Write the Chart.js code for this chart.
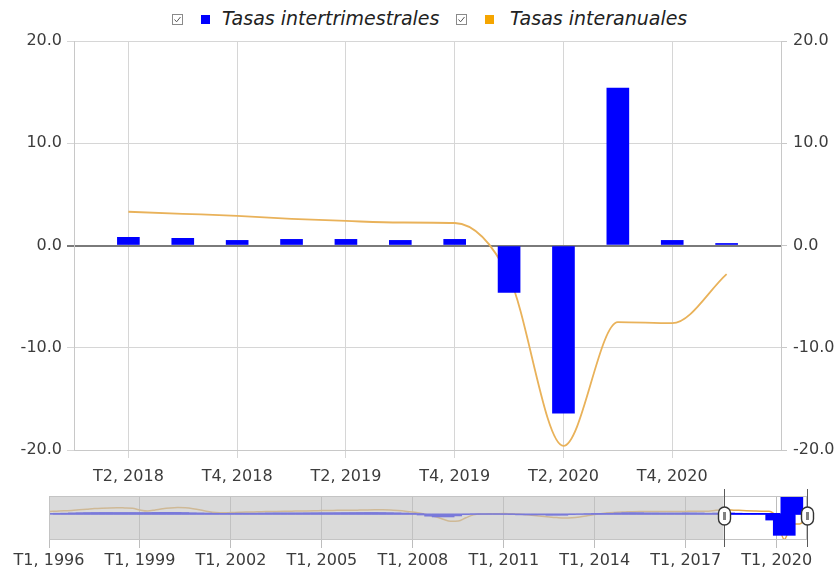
<!DOCTYPE html>
<html>
<head>
<meta charset="utf-8">
<script src="https://cdn.jsdelivr.net/npm/chart.js@4.4.1/dist/chart.umd.min.js"></script>
<style>
  body { margin: 0; background: #fff; width: 834px; height: 572px; overflow: hidden; position: relative;
         font-family: 'DejaVu Sans', Verdana, sans-serif; }
  #legend { position: absolute; top: 0; left: 0; width: 834px; height: 36px; }
  .chk { position: absolute; top: 14px; width: 11px; height: 11px; }
  .sq { position: absolute; top: 15px; width: 9px; height: 9px; }
  .lbl { position: absolute; top: 6px; font-size: 19px; line-height: 24px; font-style: italic; color: #222; white-space: nowrap; }
  #main { position: absolute; top: 0; left: 0; }
  #nav { position: absolute; top: 486px; left: 0; }
</style>
</head>
<body>
<div id="legend">
  <svg class="chk" style="left:172px" viewBox="0 0 11 11"><rect x="0.5" y="0.5" width="10" height="10" fill="#fff" stroke="#8a8a8a"/><polyline points="2.5,5.5 4.6,7.8 8.5,3" fill="none" stroke="#555" stroke-width="1"/></svg>
  <div class="sq" style="left:201px;background:#0000ff"></div>
  <span class="lbl" style="left:222px">Tasas intertrimestrales</span>
  <svg class="chk" style="left:456px" viewBox="0 0 11 11"><rect x="0.5" y="0.5" width="10" height="10" fill="#fff" stroke="#8a8a8a"/><polyline points="2.5,5.5 4.6,7.8 8.5,3" fill="none" stroke="#555" stroke-width="1"/></svg>
  <div class="sq" style="left:485px;background:#f5a500"></div>
  <span class="lbl" style="left:510px">Tasas interanuales</span>
</div>
<canvas id="main" width="834" height="486"></canvas>
<canvas id="nav" width="834" height="86"></canvas>
<script>
// Quarterly series, T1 1996 .. T1 2021
const years = [1996, 1997, 1998, 1999, 2000, 2001, 2002, 2003, 2004, 2005, 2006, 2007, 2008,
               2009, 2010, 2011, 2012, 2013, 2014, 2015, 2016, 2017, 2018, 2019, 2020, 2021];
const quarters = ['T1', 'T2', 'T3', 'T4'];

const tasasIntertrimestrales = [
  0.5, 0.6, 0.7, 0.7,   0.9, 1.0, 1.0, 1.1,   1.1, 1.0, 1.0, 1.1,   1.0, 0.9, 1.1, 1.3,
  1.3, 1.2, 0.9, 0.8,   0.8, 0.7, 0.6, 0.6,   0.6, 0.7, 0.7, 0.6,   0.7, 0.8, 0.8, 0.8,
  0.8, 0.8, 0.8, 0.9,   0.9, 0.9, 0.9, 1.0,   1.0, 1.0, 1.1, 1.1,   1.0, 0.9, 0.8, 0.7,
  0.4, 0.0, -0.7, -1.6, -2.2, -1.4, -0.4, -0.1, 0.1, 0.2, 0.1, 0.1,  0.2, -0.1, -0.2, -0.6,
  -0.5, -0.5, -0.5, -0.9, -0.4, -0.1, 0.1, 0.1, 0.3, 0.5, 0.6, 0.7,  0.9, 1.0, 0.8, 0.8,
  0.7, 0.8, 0.7, 0.7,   0.8, 0.9, 0.6, 0.7,   0.6, 0.8, 0.7, 0.5,   0.6, 0.6, 0.5, 0.6,
  -4.6, -16.4, 15.4, 0.5,
  0.2
];

const tasasInteranuales = [
  2.0, 2.3, 2.6, 2.8,   3.3, 3.8, 4.3, 4.6,   4.8, 4.9, 4.8, 4.6,   3.2, 2.4, 3.2, 4.2,
  4.8, 5.1, 4.9, 4.2,   3.2, 2.0, 1.2, 1.0,   1.2, 1.4, 1.6, 1.7,   1.9, 2.0, 2.1, 2.2,
  2.3, 2.4, 2.5, 2.6,   2.7, 2.8, 2.9, 3.0,   3.0, 3.1, 3.2, 3.3,   3.4, 3.2, 2.8, 2.3,
  1.6, 0.6, -0.6, -2.0, -4.0, -5.6, -5.4, -2.8, -0.6, 0.1, 0.2, 0.3, 0.4, 0.2, 0.0, -0.5,
  -1.0, -1.6, -2.2, -2.7, -3.0, -2.8, -2.2, -1.3, -0.3, 0.5, 1.1, 1.5, 1.7, 1.9, 2.0, 2.0,
  2.0, 2.0, 2.0, 2.0,   2.1, 2.2, 2.2, 2.3,   3.0, 3.3, 3.1, 2.9,   2.6, 2.4, 2.25, 2.2,
  -3.1, -19.6, -7.5, -7.6,
  -2.8
];

// build "T1, 1996" style labels
const quarterLabels = [];
years.forEach(y => quarters.forEach(q => quarterLabels.push(q + ', ' + y)));

// selected window in the navigator (T2 2018 .. T1 2021)
const windowStart = 89;
const windowEnd = 100;

const mainLabels = quarterLabels.slice(windowStart - 1, windowEnd + 2);
const mainBars = [null].concat(tasasIntertrimestrales.slice(windowStart, windowEnd + 1), [null]);
const mainLine = [null].concat(tasasInteranuales.slice(windowStart, windowEnd + 1), [null]);

const navLabels = quarterLabels.slice(0, tasasIntertrimestrales.length);

Chart.defaults.font.family = "'DejaVu Sans', Verdana, sans-serif";
Chart.defaults.font.size = 16;
Chart.defaults.color = '#3c3c3c';

const gridGray = '#d6d6d6';

const yTicks = {
  stepSize: 10,
  callback: v => v.toFixed(1)
};

new Chart(document.getElementById('main'), {
  type: 'bar',
  data: {
    labels: mainLabels,
    datasets: [{
      label: 'Tasas intertrimestrales',
      data: mainBars,
      backgroundColor: '#0000ff',
      barThickness: 22
    }, {
      type: 'line',
      label: 'Tasas interanuales',
      data: mainLine,
      borderColor: '#e9b25a',
      borderWidth: 1.8,
      pointRadius: 0,
      cubicInterpolationMode: 'monotone',
      fill: false
    }]
  },
  options: {
    responsive: false,
    animation: false,
    layout: { padding: { top: 41, left: 0, right: 0, bottom: 0 } },
    plugins: { legend: { display: false }, tooltip: { enabled: false } },
    scales: {
      x: {
        offset: false,
        grid: {
          offset: false,
          tickLength: 8,
          color: c => (c.index % 2 === 1 && c.index < mainLabels.length - 1) ? gridGray : 'rgba(0,0,0,0)'
        },
        border: { color: '#c8c8c8' },
        ticks: {
          autoSkip: false,
          maxRotation: 0,
          padding: 9,
          callback: function (v, i) {
            return (i % 2 === 1 && i < mainLabels.length - 1) ? this.getLabelForValue(v) : '';
          }
        },
        afterFit: s => { s.height = 36; }
      },
      y: {
        position: 'left',
        min: -20,
        max: 20,
        ticks: Object.assign({ padding: 5 }, yTicks),
        grid: {
          tickLength: 7,
          color: c => c.tick && c.tick.value === 0 ? '#7a7a7a' : gridGray,
          lineWidth: c => c.tick && c.tick.value === 0 ? 2 : 1
        },
        border: { color: '#c8c8c8' },
        afterFit: s => { s.width = 74; }
      },
      y2: {
        position: 'right',
        min: -20,
        max: 20,
        ticks: Object.assign({ padding: 6 }, yTicks),
        grid: { drawOnChartArea: false, tickLength: 6, color: '#c8c8c8' },
        border: { color: '#c8c8c8' },
        afterFit: s => { s.width = 53; }
      }
    }
  }
});

// gray mask, border and handles of the navigator
const navigatorOverlay = {
  id: 'navigatorOverlay',
  afterDatasetsDraw(chart) {
    const { ctx, chartArea: a, scales: { x } } = chart;
    const x1 = x.getPixelForValue(windowStart);
    const x2 = x.getPixelForValue(windowEnd);
    ctx.save();
    ctx.fillStyle = 'rgba(196,196,196,0.62)';
    ctx.fillRect(a.left, a.top, x1 - a.left, a.bottom - a.top);
    ctx.fillRect(x2, a.top, a.right - x2, a.bottom - a.top);
    ctx.strokeStyle = '#c4c4c4';
    ctx.lineWidth = 1;
    ctx.strokeRect(a.left + 0.5, a.top + 0.5, a.right - a.left - 1, a.bottom - a.top - 1);

    const cy = a.top + 20;
    [x1, x2].forEach(px => {
      px = Math.round(px) + 0.5;
      ctx.strokeStyle = '#5a5a5a';
      ctx.lineWidth = 1;
      ctx.beginPath();
      ctx.moveTo(px, a.top - 7);
      ctx.lineTo(px, a.bottom + 7);
      ctx.stroke();
      ctx.beginPath();
      ctx.roundRect(px - 6, cy - 9, 12, 18, 6);
      ctx.fillStyle = '#fff';
      ctx.fill();
      ctx.strokeStyle = '#333';
      ctx.lineWidth = 1.4;
      ctx.stroke();
      ctx.fillStyle = '#808080';
      ctx.fillRect(px - 1.5, cy - 4, 3, 8);
    });
    ctx.restore();
  }
};

new Chart(document.getElementById('nav'), {
  type: 'bar',
  data: {
    labels: navLabels,
    datasets: [{
      data: tasasIntertrimestrales,
      backgroundColor: '#0000ff',
      barThickness: 22
    }, {
      type: 'line',
      data: tasasInteranuales,
      borderColor: '#e2a94e',
      borderWidth: 1.5,
      pointRadius: 0,
      cubicInterpolationMode: 'monotone',
      fill: false
    }]
  },
  options: {
    responsive: false,
    animation: false,
    layout: { padding: { top: 10, left: 49, right: 27, bottom: 0 } },
    plugins: { legend: { display: false }, tooltip: { enabled: false } },
    scales: {
      x: {
        offset: false,
        grid: {
          offset: false,
          tickLength: 8,
          color: c => c.index % 12 === 0 ? '#bdbdbd' : 'rgba(0,0,0,0)'
        },
        border: { display: false },
        ticks: {
          autoSkip: false,
          maxRotation: 0,
          padding: 3,
          callback: function (v, i) {
            return i % 12 === 0 ? this.getLabelForValue(v) : '';
          }
        },
        afterFit: s => { s.height = 32; }
      },
      y: { display: false, min: -20, max: 14 }
    }
  },
  plugins: [navigatorOverlay]
});
</script>
</body>
</html>
